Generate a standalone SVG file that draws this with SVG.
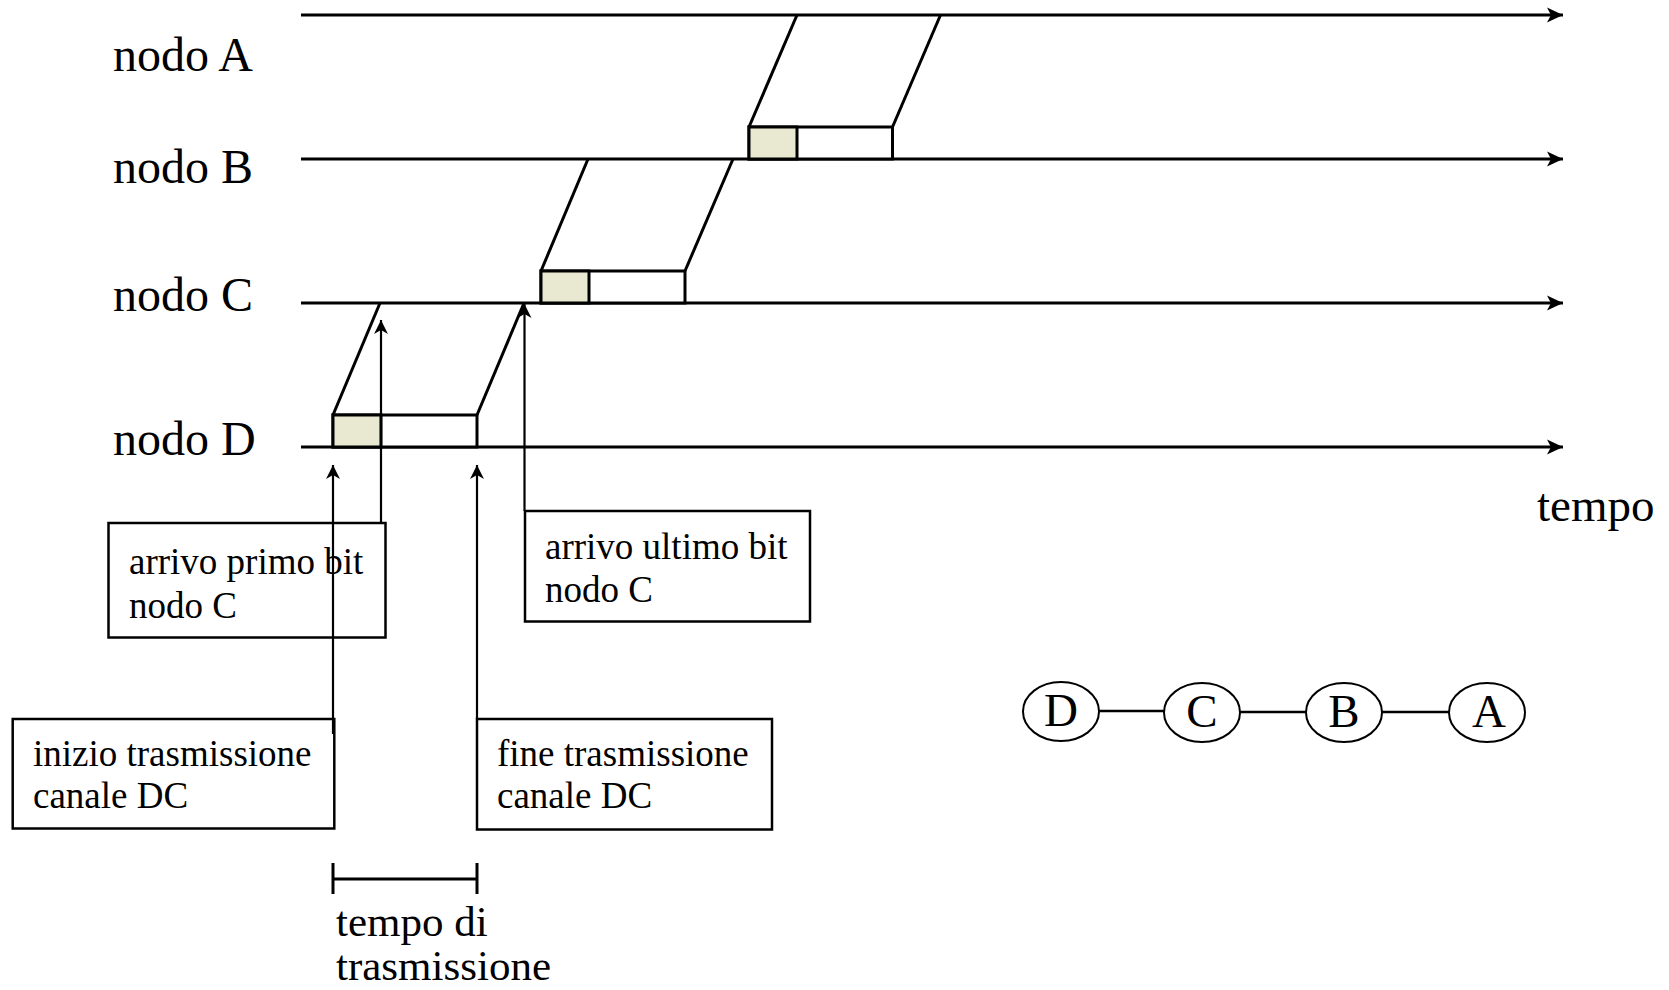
<svg xmlns="http://www.w3.org/2000/svg" width="1669" height="990" viewBox="0 0 1669 990">
<style>
.t{font-family:"Liberation Serif","Times New Roman",serif;fill:#000}
.lbl{font-size:48px}
.box{fill:#fff;stroke:#000;stroke-width:2.5}
.ax{stroke:#000;stroke-width:3;fill:none}
.ar{stroke:#000;stroke-width:2.2;fill:none}
.pk{fill:#fff;stroke:#000;stroke-width:3}
.sh{fill:#e9e8d0;stroke:#000;stroke-width:3}
.edge{stroke:#000;stroke-width:3;fill:none}
.bl{font-size:37px}
.circ{fill:#fff;stroke:#000;stroke-width:2}
</style>
<defs>
<marker id="bigArrow" markerUnits="userSpaceOnUse" markerWidth="20" markerHeight="20" refX="0" refY="0" viewBox="-18 -10 20 20" orient="auto">
<path d="M0,0 L-16,-7.5 L-12,0 L-16,7.5 Z" fill="#000"/>
</marker>
<marker id="smallArrow" markerUnits="userSpaceOnUse" markerWidth="18" markerHeight="18" refX="0" refY="0" viewBox="-16 -9 18 18" orient="auto">
<path d="M0,0 L-14,-7 L-10,0 L-14,7 Z" fill="#000"/>
</marker>
</defs>

<g id="axes">
<line class="ax" x1="301" y1="15" x2="1563" y2="15" marker-end="url(#bigArrow)"/>
<line class="ax" x1="301" y1="159" x2="1563" y2="159" marker-end="url(#bigArrow)"/>
<line class="ax" x1="301" y1="303" x2="1563" y2="303" marker-end="url(#bigArrow)"/>
<line class="ax" x1="301" y1="447" x2="1563" y2="447" marker-end="url(#bigArrow)"/>
</g>

<g id="labels">
<text class="t lbl" x="113" y="71">nodo A</text>
<text class="t lbl" x="113" y="183">nodo B</text>
<text class="t lbl" x="113" y="311">nodo C</text>
<text class="t lbl" x="113" y="455">nodo D</text>
<text class="t" x="1537" y="521" font-size="47">tempo</text>
</g>

<g id="packet-D">
<line class="edge" x1="333" y1="415" x2="380" y2="303"/>
<line class="edge" x1="477" y1="415" x2="524" y2="303"/>
<rect class="pk" x="333" y="415" width="144" height="32"/>
<rect class="sh" x="333" y="415" width="48" height="32"/>
</g>
<g id="packet-C">
<line class="edge" x1="541" y1="271" x2="588" y2="159"/>
<line class="edge" x1="685" y1="271" x2="733" y2="159"/>
<rect class="pk" x="541" y="271" width="144" height="32"/>
<rect class="sh" x="541" y="271" width="48" height="32"/>
</g>
<g id="packet-B">
<line class="edge" x1="749" y1="127" x2="797" y2="15"/>
<line class="edge" x1="892.5" y1="127" x2="940.5" y2="15"/>
<rect class="pk" x="749" y="127" width="143.5" height="32"/>
<rect class="sh" x="749" y="127" width="48" height="32"/>
</g>

<g id="box-primo">
<rect class="box" x="108.5" y="523" width="277" height="114.5"/>
<text class="t bl" x="129" y="574">arrivo primo bit</text>
<text class="t bl" x="129" y="618">nodo C</text>
</g>
<g id="box-ultimo">
<rect class="box" x="525" y="511" width="285" height="110.5"/>
<text class="t bl" x="545" y="559">arrivo ultimo bit</text>
<text class="t bl" x="545" y="602">nodo C</text>
</g>
<g id="box-inizio">
<rect class="box" x="12.7" y="719" width="321.6" height="109.5"/>
<text class="t bl" x="33" y="766">inizio trasmissione</text>
<text class="t bl" x="33" y="808">canale DC</text>
</g>
<g id="box-fine">
<rect class="box" x="477" y="719" width="295" height="110.5"/>
<text class="t bl" x="497" y="766">fine trasmissione</text>
<text class="t bl" x="497" y="808">canale DC</text>
</g>

<g id="connectors">
<line class="ar" x1="381" y1="524" x2="381" y2="320" marker-end="url(#smallArrow)"/>
<line class="ar" x1="524.5" y1="511" x2="524.5" y2="304" marker-end="url(#smallArrow)"/>
<line class="ar" x1="333" y1="734" x2="333" y2="465" marker-end="url(#smallArrow)"/>
<line class="ar" x1="477" y1="719" x2="477" y2="465" marker-end="url(#smallArrow)"/>
<line x1="1099" y1="711" x2="1164" y2="711" stroke="#000" stroke-width="2.5"/>
<line x1="1240" y1="712" x2="1306" y2="712" stroke="#000" stroke-width="2.5"/>
<line x1="1382" y1="712" x2="1449" y2="712" stroke="#000" stroke-width="2.5"/>
</g>

<g id="bracket">
<line class="ax" x1="333" y1="879" x2="477" y2="879"/>
<line class="ax" x1="333" y1="863" x2="333" y2="894"/>
<line class="ax" x1="477" y1="863" x2="477" y2="894"/>
<text class="t" x="336" y="936" font-size="43">tempo di</text>
<text class="t" x="336" y="980" font-size="43">trasmissione</text>
</g>

<g id="node-D">
<ellipse class="circ" cx="1061" cy="711.5" rx="38" ry="29.5"/>
<text class="t" x="1061" y="725.5" font-size="47" text-anchor="middle">D</text>
</g>
<g id="node-C">
<ellipse class="circ" cx="1202" cy="712.5" rx="38" ry="29.5"/>
<text class="t" x="1202" y="726.5" font-size="47" text-anchor="middle">C</text>
</g>
<g id="node-B">
<ellipse class="circ" cx="1344" cy="712.5" rx="38" ry="29.5"/>
<text class="t" x="1344" y="726.5" font-size="47" text-anchor="middle">B</text>
</g>
<g id="node-A">
<ellipse class="circ" cx="1487" cy="712.5" rx="38" ry="29.5"/>
<text class="t" x="1489" y="726.5" font-size="47" text-anchor="middle">A</text>
</g>
</svg>
